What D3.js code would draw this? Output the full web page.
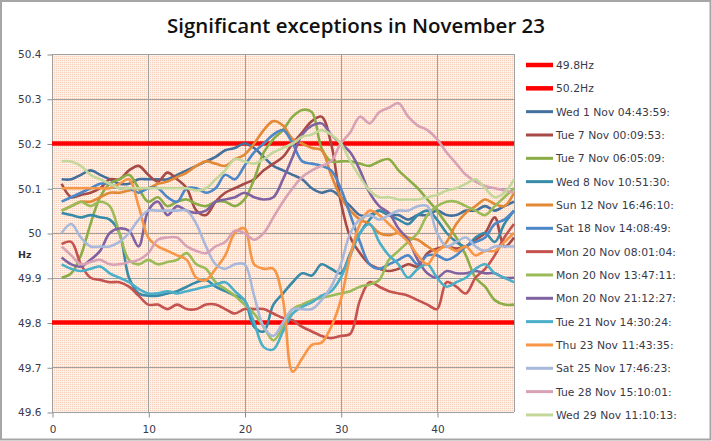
<!DOCTYPE html>
<html><head><meta charset="utf-8">
<script src="https://cdn.jsdelivr.net/npm/d3@7"></script>
<style>
html,body{margin:0;padding:0;background:#fff;}
svg{display:block;}
</style></head>
<body>
<svg id="chart" width="712" height="441"></svg>
<script>
const title = "Significant exceptions in November 23";
const yTicks = [49.6, 49.7, 49.8, 49.9, 50, 50.1, 50.2, 50.3, 50.4];
const xTicks = [0, 10, 20, 30, 40];
const limitNames = ["49.8Hz", "50.2Hz"];
const limitValues = [49.8, 50.2];
const seriesNames = [
  "Wed 1 Nov 04:43:59:", "Tue 7 Nov 00:09:53:", "Tue 7 Nov 06:05:09:", "Wed 8 Nov 10:51:30:",
  "Sun 12 Nov 16:46:10:", "Sat 18 Nov 14:08:49:", "Mon 20 Nov 08:01:04:", "Mon 20 Nov 13:47:11:",
  "Mon 20 Nov 21:12:27:", "Tue 21 Nov 14:30:24:", "Thu 23 Nov 11:43:35:", "Sat 25 Nov 17:46:23:",
  "Tue 28 Nov 15:10:01:", "Wed 29 Nov 11:10:13:"
];
const seriesColors = ["#44709d", "#a54a47", "#8aad47", "#378ba8", "#e38935", "#4d87c7", "#c4524f",
  "#9bbb59", "#7f62a1", "#4bafca", "#f79646", "#a8b8da", "#d8a2b6", "#c4d79b"];

const wed1 = [50.12,50.12,50.13,50.14,50.13,50.12,50.11,50.11,50.12,50.12,
 50.12,50.12,50.13,50.14,50.15,50.16,50.17,50.185,50.19,50.2,
 50.19,50.17,50.15,50.14,50.13,50.12,50.1,50.09,50.095,50.08,
 50.06,50.04,50.04,50.05,50.04,50.04,50.03,50.04,50.04,50.05,
 50.04,50.04,50.05,50.05,50.06,50.05,50.06,50.07];
const tue7a = [50.11,50.08,50.085,50.09,50.1,50.12,50.12,50.14,50.15,50.13,
 50.115,50.135,50.12,50.1,50.05,50.04,50.07,50.09,50.1,50.11,
 50.12,50.14,50.155,50.17,50.2,50.225,50.25,50.26,50.2,50.07,
 49.99,49.955,49.93,49.92,49.915,49.92,49.93,49.925,49.955,49.965,
 49.97,49.965,49.97,49.985,50.0,50.035,49.97,49.99];
const tue7b = [49.9,49.91,49.95,50.02,50.08,50.11,50.12,50.13,50.1,50.07,
 50.08,50.06,50.07,50.075,50.065,50.06,50.07,50.07,50.06,50.075,
 50.12,50.18,50.21,50.23,50.26,50.275,50.27,50.19,50.16,50.16,
 50.16,50.155,50.15,50.16,50.165,50.14,50.12,50.1,50.075,50.05,
 50.02,49.99,49.95,49.9,49.88,49.85,49.84,49.84];
const wed8 = [50.045,50.04,50.035,50.04,50.035,50.03,50.0,49.9,49.865,49.86,
 49.86,49.865,49.87,49.88,49.89,49.895,49.88,49.87,49.86,49.85,
 49.79,49.78,49.84,49.865,49.89,49.91,49.905,49.93,49.92,49.91,
 49.955,50.0,50.03,50.05,50.04,50.03,50.02,50.04,50.05,50.03,
 50.0,49.98,49.97,49.99,50.0,49.98,50.02,50.05];
const sun12 = [50.05,50.06,50.07,50.07,50.08,50.09,50.09,50.095,50.1,50.1,
 50.11,50.115,50.125,50.135,50.15,50.16,50.155,50.15,50.165,50.175,
 50.2,50.23,50.25,50.24,50.21,50.2,50.19,50.185,50.13,50.08,
 50.05,50.03,50.02,50.0,49.995,50.0,49.99,49.985,49.97,49.96,
 49.98,50.02,50.045,50.06,50.075,50.065,50.06,50.09];
const sat18 = [50.07,50.08,50.09,50.1,50.11,50.11,50.1,50.1,50.09,50.1,
 50.1,50.08,50.07,50.1,50.1,50.09,50.1,50.13,50.12,50.15,
 50.18,50.2,50.22,50.23,50.2,50.16,50.155,50.15,50.14,50.1,
 50.04,49.98,49.93,49.92,49.93,49.94,49.95,49.93,49.95,49.95,
 49.94,49.95,49.97,49.98,49.99,50.02,50.03,50.05];
const mon20a = [49.975,49.98,49.93,49.9,49.895,49.89,49.89,49.88,49.86,49.84,
 49.84,49.83,49.84,49.83,49.83,49.84,49.84,49.83,49.82,49.83,
 49.83,49.83,49.82,49.81,49.805,49.79,49.78,49.77,49.765,49.77,
 49.775,49.85,49.89,49.88,49.87,49.865,49.86,49.85,49.84,49.83,
 49.89,49.88,49.865,49.9,49.92,49.95,49.99,50.02];
const mon20b = [50.05,50.06,50.07,50.06,50.07,50.06,50.0,49.94,49.93,49.94,
 49.93,49.935,49.94,49.955,49.93,49.92,49.89,49.875,49.86,49.84,
 49.82,49.79,49.76,49.79,49.83,49.84,49.85,49.855,49.86,49.865,
 49.87,49.88,49.885,49.895,49.94,49.96,49.98,50.0,50.04,50.06,
 50.07,50.07,50.06,50.05,50.04,50.06,50.08,50.1];
const mon20c = [49.945,49.93,49.925,49.94,49.96,50.0,50.01,50.005,49.97,50.05,
 50.07,50.04,50.06,50.05,50.045,50.05,50.07,50.075,50.08,50.09,
 50.08,50.075,50.08,50.12,50.17,50.22,50.24,50.245,50.22,50.2,
 50.18,50.14,50.09,50.06,50.045,50.01,49.985,49.94,49.91,49.9,
 49.915,49.91,49.91,49.915,49.91,49.91,49.9,49.9];
const tue21 = [49.93,49.92,49.915,49.92,49.925,49.91,49.9,49.89,49.875,49.865,
 49.865,49.87,49.865,49.87,49.875,49.88,49.885,49.89,49.87,49.85,
 49.8,49.745,49.74,49.78,49.82,49.835,49.845,49.86,49.87,49.9,
 49.95,50.0,50.02,49.98,49.95,49.93,49.9,49.92,49.93,49.9,
 49.88,49.89,49.9,49.92,49.93,49.91,49.9,49.89];
const thu23 = [50.1,50.1,50.1,50.1,50.1,50.1,50.11,50.12,50.06,49.99,
 49.97,49.96,49.95,49.94,49.9,49.895,49.92,49.95,50.0,50.01,
 49.93,49.92,49.92,49.85,49.69,49.72,49.75,49.755,49.79,49.85,
 49.95,50.02,50.05,50.04,50.02,50.0,49.98,49.95,49.93,49.96,
 49.97,49.96,49.97,49.95,49.96,49.96,49.98,50.0];
const sat25 = [50.0,50.02,49.99,49.97,49.97,49.97,49.98,50.0,50.03,50.05,
 50.05,50.05,50.05,50.05,50.02,49.97,49.93,49.92,49.93,49.93,
 49.86,49.79,49.77,49.8,49.83,49.83,49.83,49.85,49.88,49.93,
 50.0,50.03,50.04,50.03,50.04,50.05,50.05,50.06,50.06,50.0,
 49.97,49.98,49.99,49.97,49.96,49.97,49.97,49.97];
const tue28 = [49.97,49.95,49.93,49.935,49.94,49.93,49.93,49.935,49.94,49.955,
 49.985,49.99,49.99,49.97,49.96,49.955,49.97,49.98,50.005,50.0,
 49.985,50.0,50.035,50.07,50.1,50.125,50.14,50.15,50.16,50.2,
 50.225,50.26,50.245,50.27,50.28,50.29,50.26,50.24,50.23,50.21,
 50.18,50.155,50.13,50.115,50.105,50.1,50.095,50.09];
const wed29 = [50.16,50.16,50.15,50.13,50.12,50.11,50.1,50.1,50.1,50.1,
 50.1,50.1,50.1,50.1,50.095,50.1,50.12,50.14,50.165,50.16,
 50.155,50.165,50.18,50.19,50.2,50.215,50.22,50.23,50.22,50.2,
 50.16,50.125,50.095,50.08,50.08,50.075,50.075,50.075,50.08,50.085,
 50.095,50.1,50.11,50.12,50.1,50.08,50.09,50.12];

const seriesValues = [wed1, tue7a, tue7b, wed8, sun12, sat18, mon20a, mon20b, mon20c, tue21, thu23, sat25, tue28, wed29];

const svg = d3.select("#chart");
const W = 712, H = 441;
const m = {left: 52, right: 514, top: 54, bottom: 412};

// outer frame
svg.append("rect").attr("x", 1).attr("y", 1).attr("width", W - 2.5).attr("height", H - 2.5)
  .attr("fill", "#fff").attr("stroke", "#a6a6a6").attr("stroke-width", 2);

// title
svg.append("text").attr("x", 356).attr("y", 33).attr("text-anchor", "middle")
  .attr("font-family", "'Open Sans', 'Liberation Sans', sans-serif").attr("font-size", 20)
  .attr("font-weight", 600).attr("fill", "#111")
  .attr("textLength", 378).attr("lengthAdjust", "spacingAndGlyphs")
  .text(title);

const x = d3.scaleLinear().domain([0, 48]).range([m.left, m.right]);
const y = d3.scaleLinear().domain([49.6, 50.4]).range([m.bottom, m.top]);

// pattern background
const defs = svg.append("defs");
const pat = defs.append("pattern").attr("id", "dots").attr("width", 2).attr("height", 2)
  .attr("patternUnits", "userSpaceOnUse");
pat.append("rect").attr("width", 2).attr("height", 2).attr("fill", "#fdf0e6");
pat.append("rect").attr("x", 0).attr("y", 0).attr("width", 1).attr("height", 1).attr("fill", "#f6cdb8");

svg.append("rect").attr("x", m.left).attr("y", m.top)
  .attr("width", m.right - m.left).attr("height", m.bottom - m.top)
  .attr("fill", "url(#dots)");

// gridlines
const grid = svg.append("g").attr("stroke", "#a0a0a0").attr("stroke-width", 1);
yTicks.forEach(t => {
  grid.append("line").attr("x1", m.left).attr("x2", m.right)
    .attr("y1", Math.round(y(t)) + 0.5).attr("y2", Math.round(y(t)) + 0.5);
});
xTicks.forEach(t => {
  grid.append("line").attr("y1", m.top).attr("y2", m.bottom)
    .attr("x1", Math.round(x(t)) + 0.5).attr("x2", Math.round(x(t)) + 0.5);
});
grid.append("line").attr("y1", m.top).attr("y2", m.bottom)
  .attr("x1", m.right + 0.5).attr("x2", m.right + 0.5);

// axes
const yAxis = d3.axisLeft(y).tickValues(yTicks).tickSize(5).tickPadding(6)
  .tickFormat(d => d3.format("")(Math.round(d * 10) / 10));
const gy = svg.append("g").attr("transform", `translate(${m.left + 0.5},0.5)`).call(yAxis);
const xAxis = d3.axisBottom(x).tickValues(xTicks).tickSize(5).tickPadding(8);
const gx = svg.append("g").attr("transform", `translate(0.5,${m.bottom + 0.5})`).call(xAxis);
[gx, gy].forEach(g => {
  g.select(".domain").attr("stroke", "#8c8c8c");
  g.selectAll(".tick line").attr("stroke", "#8c8c8c");
  g.selectAll("text").attr("font-family", "'DejaVu Sans', sans-serif").attr("font-size", 10.5).attr("fill", "#3a3a4a");
});
gy.select(".domain").remove();
gx.select(".domain").remove();

svg.append("text").attr("x", 18).attr("y", 258).attr("font-family", "'DejaVu Sans', sans-serif")
  .attr("font-size", 9.5).attr("font-weight", "bold").attr("fill", "#333").text("Hz");

// lines
const plot = svg.append("g");
const xsLimit = d3.range(0, 49);
limitValues.forEach(v => {
  plot.append("path").datum(xsLimit.map(i => [i, v]))
    .attr("fill", "none").attr("stroke", "#ff0000").attr("stroke-width", 4.5)
    .attr("d", d3.line().x(d => x(d[0])).y(d => y(d[1])));
});
const line = d3.line().curve(d3.curveCatmullRom.alpha(0.5)).x((d, i) => x(i + 1)).y(d => y(d));
seriesValues.forEach((vals, k) => {
  plot.append("path").datum(vals).attr("fill", "none")
    .attr("stroke", seriesColors[k]).attr("stroke-width", 2.6)
    .attr("stroke-linejoin", "round").attr("d", line);
});

// legend
const legNames = limitNames.concat(seriesNames);
const legColors = ["#ff0000", "#ff0000"].concat(seriesColors);
const lg = svg.append("g");
legNames.forEach((n, i) => {
  const yy = 65 + i * 23.33;
  lg.append("line").attr("x1", 526).attr("x2", 553).attr("y1", yy).attr("y2", yy)
    .attr("stroke", legColors[i]).attr("stroke-width", i < 2 ? 4.5 : 3);
  lg.append("text").attr("x", 556).attr("y", yy + 4).attr("font-family", "'DejaVu Sans', sans-serif")
    .attr("font-size", 10.8).attr("fill", "#3a3a4a").text(n);
});
</script>
</body></html>
